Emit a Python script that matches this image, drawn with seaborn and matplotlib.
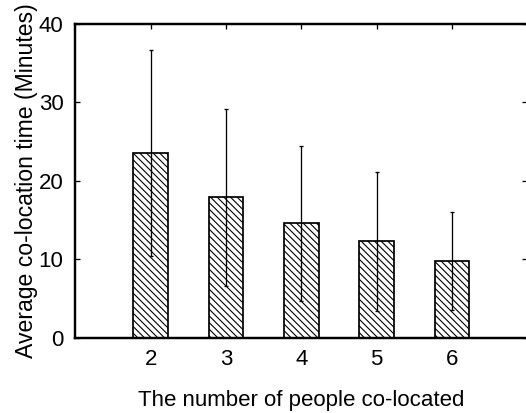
import matplotlib
matplotlib.use("Agg")
import matplotlib.pyplot as plt
import seaborn as sns
import pandas as pd

# group sizes and measured co-location time (mean +/- std, minutes)
people = ["2", "3", "4", "5", "6"]
avg_minutes = [23.6, 17.9, 14.6, 12.3, 9.85]
std_minutes = [13.1, 11.3, 9.9, 8.8, 6.25]

sns.set_style("ticks")
plt.rcParams['font.family'] = ['Liberation Sans', 'DejaVu Sans']
plt.rcParams['hatch.linewidth'] = 0.8
plt.rcParams['text.color'] = 'black'
plt.rcParams['axes.labelcolor'] = 'black'
plt.rcParams['xtick.color'] = 'black'
plt.rcParams['ytick.color'] = 'black'

DPI = 100
FS = 16

df = pd.DataFrame({"people": people, "minutes": avg_minutes})

fig = plt.figure(figsize=(526 / DPI, 413 / DPI), dpi=DPI)
ax = fig.add_axes([0.1435, 0.1816, 0.859, 0.7603])

sns.barplot(data=df, x="people", y="minutes", color="white", edgecolor="black",
            linewidth=1.25, width=0.46, errorbar=None, saturation=1, ax=ax)
# hatch spacing = dpi / (3 * n) px  -> n=5 gives ~6.7 px like the original
for bar in ax.patches:
    bar.set_hatch(chr(92) * 5)
    bar.set_facecolor("white")

# error bars drawn from the std values
ax.errorbar(range(len(people)), avg_minutes, yerr=std_minutes, fmt="none",
            ecolor="black", elinewidth=0.94, capsize=1.6, capthick=0.94, zorder=5)

ax.set_xlim(-1, 5)
ax.set_ylim(0, 40)
ax.set_yticks([0, 10, 20, 30, 40])
ax.set_xticks(range(len(people)))
ax.set_xticklabels(people)

for side in ["left", "bottom", "top", "right"]:
    ax.spines[side].set_linewidth(1.75)
    ax.spines[side].set_color("black")

ax.tick_params(axis="y", direction="in", length=3.6, width=0.94, left=True, right=True,
               labelsize=FS, pad=8.6, colors="black")
ax.tick_params(axis="x", direction="in", length=3.6, width=0.94, top=True, bottom=False,
               labelsize=FS, pad=7.9, colors="black")

ax.set_xlabel("The number of people co-located", fontsize=FS, color="black")
ax.set_ylabel("Average co-location time (Minutes)", fontsize=16.6, color="black")
ax.xaxis.set_label_coords(0.5, -0.166)
ax.yaxis.set_label_coords(-0.083, 0.5)

fig.savefig("out.png", dpi=DPI)
